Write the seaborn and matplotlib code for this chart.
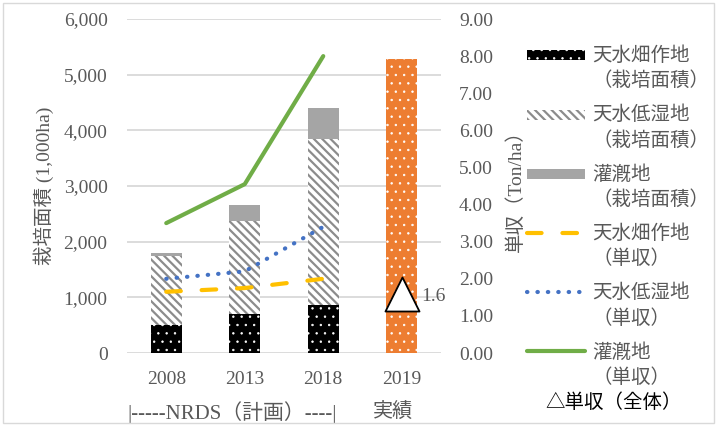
import numpy as np
import matplotlib
matplotlib.use("Agg")
import matplotlib.pyplot as plt
from matplotlib.patches import Patch, Rectangle
from matplotlib.lines import Line2D
from matplotlib.legend_handler import HandlerPatch
from matplotlib.ticker import FuncFormatter
import seaborn as sns

# ---- data -------------------------------------------------------------
years = ["2008", "2013", "2018", "2019"]
plan_years = ["2008", "2013", "2018"]
actual_years = ["2019"]

# cultivated area (1,000 ha)
area_rainfed_upland = [500, 700, 870]
area_rainfed_lowland = [1250, 1680, 2970]
area_irrigated = [50, 270, 560]
area_actual = [5280]

# yield (ton/ha)
yield_rainfed_upland = [1.65, 1.75, 2.0]
yield_rainfed_lowland = [2.0, 2.2, 3.4]
yield_irrigated = [3.5, 4.55, 8.0]
yield_overall = [1.6]

legend_labels = [
    "天水畑作地\n（栽培面積）",
    "天水低湿地\n（栽培面積）",
    "灌漑地\n（栽培面積）",
    "天水畑作地\n（単収）",
    "天水低湿地\n（単収）",
    "灌漑地\n（単収）",
]

# ---- style ------------------------------------------------------------
TEXT = "#595959"
GRID = "#D9D9D9"
C_BLACK = "#000000"
C_STRIPE = "#8C8C8C"
C_GRAY = "#A5A5A5"
C_ORANGE = "#ED7D31"
C_YELLOW = "#FFC000"
C_BLUE = "#4472C4"
C_GREEN = "#70AD47"

HATCH_DOTS = ".."
HATCH_STRIPES = "\\\\\\\\"
LW_DOTS = 0.5
LW_STRIPES = 1.6

sns.set_style("white")
plt.rcParams["font.family"] = ["Liberation Serif", "Noto Sans CJK JP"]
plt.rcParams["font.size"] = 14
plt.rcParams["hatch.linewidth"] = LW_DOTS


def set_hatch_lw(patches, lw):
    for p in patches:
        if hasattr(p, "set_hatch_linewidth"):
            p.set_hatch_linewidth(lw)


fig = plt.figure(figsize=(7.17, 4.26), dpi=100)
ax = fig.add_axes([127 / 717, 1 - 353 / 426, 314 / 717, 334 / 426])
ax2 = ax.twinx()

# ---- stacked area bars (drawn tallest first, each layer overlays) ------
up = np.array(area_rainfed_upland)
low = np.array(area_rainfed_lowland)
irr = np.array(area_irrigated)
bar_w = 0.4

sns.barplot(x=plan_years, y=up + low + irr, order=years, color=C_GRAY,
            saturation=1, width=bar_w, linewidth=0, ax=ax)

n0 = len(ax.patches)
plt.rcParams["hatch.linewidth"] = LW_STRIPES
sns.barplot(x=plan_years, y=up + low, order=years, color="white",
            edgecolor=C_STRIPE, hatch=HATCH_STRIPES, saturation=1,
            width=bar_w, linewidth=0, ax=ax)
set_hatch_lw(ax.patches[n0:], LW_STRIPES)

n0 = len(ax.patches)
plt.rcParams["hatch.linewidth"] = LW_DOTS
sns.barplot(x=plan_years, y=up, order=years, color=C_BLACK,
            edgecolor="white", hatch=HATCH_DOTS, saturation=1, width=bar_w,
            linewidth=0, ax=ax)
sns.barplot(x=actual_years, y=area_actual, order=years, color=C_ORANGE,
            edgecolor="white", hatch=HATCH_DOTS, saturation=1, width=bar_w,
            linewidth=0, ax=ax)
set_hatch_lw(ax.patches[n0:], LW_DOTS)

# ---- yield lines --------------------------------------------------------
pos = np.arange(len(plan_years))
sns.lineplot(x=pos, y=yield_rainfed_upland, color=C_YELLOW, lw=3,
             linestyle=(0, (3.5, 5)), dash_capstyle="round", ax=ax2)
sns.lineplot(x=pos, y=yield_rainfed_lowland, color=C_BLUE, lw=3,
             linestyle=(0, (0.1, 2.4)), dash_capstyle="round", ax=ax2)
sns.lineplot(x=pos, y=yield_irrigated, color=C_GREEN, lw=3,
             solid_capstyle="round", ax=ax2)

# overall yield marker for the actual year
x_act = [years.index(y) for y in actual_years]
sns.scatterplot(x=x_act, y=yield_overall, marker="^", s=600, color="white",
                edgecolor="black", linewidth=1.3, zorder=5, ax=ax2)
for xv, yv in zip(x_act, yield_overall):
    ax2.annotate(f"{yv:.1f}", xy=(xv, yv), xytext=(23, -2),
                 textcoords="offset points", ha="center", va="center",
                 color=TEXT, fontsize=14, annotation_clip=False)

# ---- axes ---------------------------------------------------------------
ax.set_xlim(-0.5, len(years) - 0.5)
ax2.set_xlim(-0.5, len(years) - 0.5)
ax.set_ylim(0, 6000)
ax2.set_ylim(0, 9)
ax.set_yticks(np.arange(0, 6001, 1000))
ax2.set_yticks(np.arange(0, 9.01, 1))
ax.yaxis.set_major_formatter(FuncFormatter(lambda v, _: f"{v:,.0f}"))
ax2.yaxis.set_major_formatter(FuncFormatter(lambda v, _: f"{v:.2f}"))
ax.set_xticks(range(len(years)))
ax.set_xticklabels(years)

for a in (ax, ax2):
    for s in a.spines.values():
        s.set_visible(False)
ax.yaxis.grid(True, color=GRID, lw=1.3)
ax.xaxis.grid(False)
ax.set_axisbelow(True)

ax.tick_params(axis="y", length=0, pad=14, labelcolor=TEXT, labelsize=14)
ax.tick_params(axis="x", length=0, pad=13, labelcolor=TEXT, labelsize=14)
ax2.tick_params(axis="y", length=0, pad=13, labelcolor=TEXT, labelsize=14)

ax.set_xlabel("")
ax.set_ylabel("栽培面積 (1,000ha)", color=TEXT, fontsize=14, va="center")
ax.yaxis.set_label_coords(-0.265, 0.5)
ax2.set_ylabel("単収（Ton/ha）", color=TEXT, fontsize=14, va="center",
               rotation=90)
ax2.yaxis.set_label_coords(1.236, 0.5)

# period captions under the year labels
ax.text(0.84, -0.177, "|-----NRDS（計画）----|", transform=ax.get_xaxis_transform(),
        ha="center", va="center", color=TEXT, fontsize=15)
ax.text(2.89, -0.177, "実績", transform=ax.get_xaxis_transform(),
        ha="center", va="center", color=TEXT, fontsize=14.5)

# ---- legend ---------------------------------------------------------------
def thin_patch(legend, orig_handle, xdescent, ydescent, width, height, fontsize):
    h = 0.5 * fontsize
    return Rectangle((-xdescent, -ydescent + (height - h) / 2), width, h)

handles = [
    Patch(facecolor=C_BLACK, edgecolor="white", hatch=HATCH_DOTS, lw=0),
    Patch(facecolor="white", edgecolor=C_STRIPE, hatch=HATCH_STRIPES, lw=0),
    Patch(facecolor=C_GRAY, edgecolor=C_GRAY, lw=0),
    Line2D([], [], color=C_YELLOW, lw=3, linestyle=(0, (3.5, 5)),
           dash_capstyle="round"),
    Line2D([], [], color=C_BLUE, lw=3, linestyle=(0, (0.1, 2.4)),
           dash_capstyle="round"),
    Line2D([], [], color=C_GREEN, lw=3, solid_capstyle="round"),
]
set_hatch_lw(handles[1:2], LW_STRIPES)
leg = fig.legend(handles, legend_labels, loc="upper left",
                 bbox_to_anchor=(527 / 717, 1 - 46 / 426),
                 frameon=False, borderpad=0, borderaxespad=0,
                 handlelength=3.0, handleheight=1.1, handletextpad=0.35,
                 labelspacing=0.8, fontsize=14, labelcolor=TEXT,
                 handler_map={Patch: HandlerPatch(patch_func=thin_patch)})
for t in leg.get_texts():
    t.set_linespacing(1.45)
leg_patches = leg.get_patches()
set_hatch_lw(leg_patches[0:1], LW_DOTS)
set_hatch_lw(leg_patches[1:2], LW_STRIPES)
for col in leg._legend_handle_box.get_children():
    for item in col.get_children():
        item.align = "top"

fig.text(545 / 717, 1 - 403 / 426, "△単収（全体）", ha="left", va="center",
         color="black", fontsize=14)

# chart border
fig.patches.append(Rectangle((3 / 717, 3 / 426), 711 / 717, 420 / 426,
                             transform=fig.transFigure, fill=False,
                             edgecolor=GRID, lw=1))

fig.savefig("out.png", dpi=100)
